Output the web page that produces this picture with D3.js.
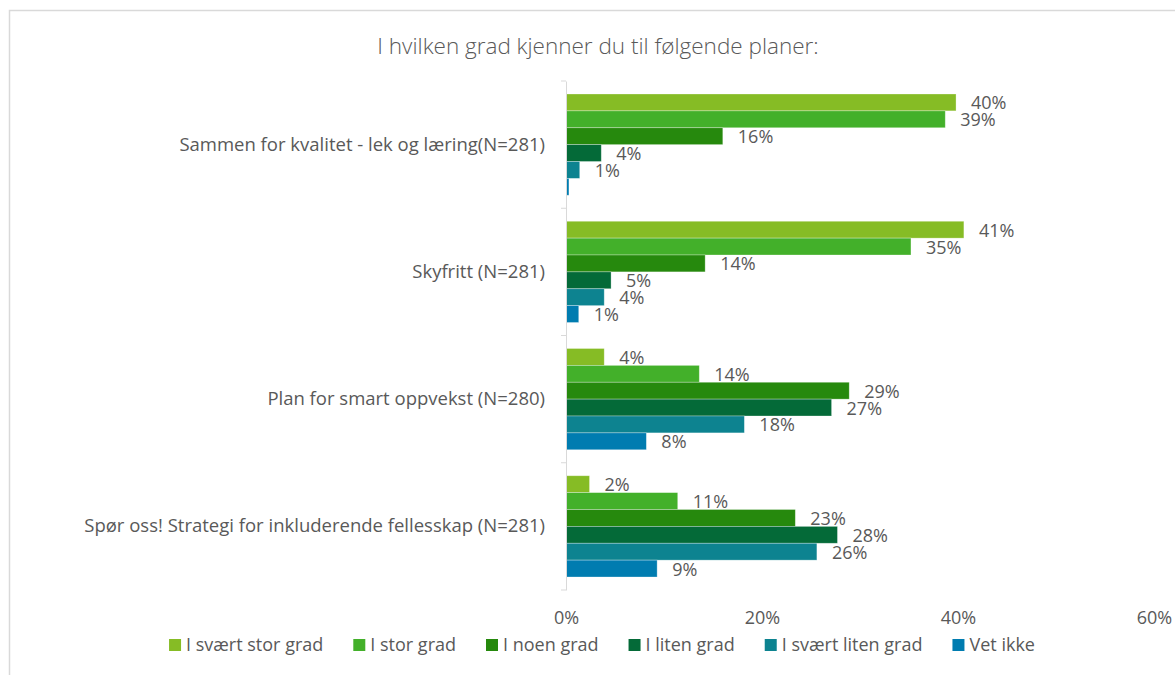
<!DOCTYPE html>
<html>
<head>
<meta charset="utf-8">
<script src="https://cdn.jsdelivr.net/npm/d3@7"></script>
<style>
  body { margin: 0; background: #fff; }
  text { font-family: "Open Sans", sans-serif; fill: #595959; }
</style>
</head>
<body>
<div id="chart"></div>
<script>
// data (percent)
var categories = [
  "Sammen for kvalitet - lek og læring(N=281)",
  "Skyfritt (N=281)",
  "Plan for smart oppvekst (N=280)",
  "Spør oss! Strategi for inkluderende fellesskap (N=281)"
];
var seriesNames = ["I svært stor grad", "I stor grad", "I noen grad", "I liten grad", "I svært liten grad", "Vet ikke"];
var svaertStor = [39.8, 40.6, 3.9, 2.4];
var stor = [38.7, 35.2, 13.6, 11.4];
var noen = [16.0, 14.2, 28.9, 23.4];
var liten = [3.6, 4.6, 27.1, 27.7];
var svaertLiten = [1.4, 3.9, 18.2, 25.6];
var vetIkke = [0.3, 1.3, 8.2, 9.3];
var xTicks = [0, 20, 40, 60];

var colors = ["#86bc25", "#43b02a", "#26890d", "#046a38", "#0d8390", "#007cb0"];
var seriesValues = [svaertStor, stor, noen, liten, svaertLiten, vetIkke];

var width = 1175, height = 675;

var svg = d3.select("#chart").append("svg")
  .attr("width", width)
  .attr("height", height);

// chart border
svg.append("rect")
  .attr("x", 9.5).attr("y", 10.5)
  .attr("width", 1200).attr("height", 700)
  .attr("fill", "none")
  .attr("stroke", "#d9d9d9")
  .attr("stroke-width", 1.5);

svg.append("text")
  .attr("x", 598).attr("y", 54)
  .attr("text-anchor", "middle")
  .style("font-size", "22.5px")
  .style("font-weight", 300)
  .text("I hvilken grad kjenner du til følgende planer:");

var x = d3.scaleLinear().domain([0, 60]).range([566, 1154]);
var y0 = d3.scaleBand().domain(categories).range([81, 590]);
var y1 = d3.scaleBand().domain(seriesNames).range([0, y0.bandwidth()]).paddingOuter(0.77);

var rows = categories.map(function(c, i) {
  return { cat: c, vals: seriesNames.map(function(s, j) { return { name: s, value: seriesValues[j][i], color: colors[j] }; }) };
});

var fmt = function(v) { return Math.round(v) + "%"; };

var groups = svg.selectAll(".grp")
  .data(rows).enter()
  .append("g").attr("class", "grp")
  .attr("transform", function(d) { return "translate(0," + y0(d.cat) + ")"; });

groups.selectAll("rect")
  .data(function(d) { return d.vals; })
  .enter().append("rect")
  .attr("x", x(0))
  .attr("y", function(d) { return y1(d.name); })
  .attr("width", function(d) { return x(d.value) - x(0); })
  .attr("height", y1.bandwidth())
  .attr("fill", function(d) { return d.color; })
  .attr("stroke", "#fff")
  .attr("stroke-opacity", 0.4)
  .attr("stroke-width", 0.75);

groups.selectAll(".lbl")
  .data(function(d) { return d.vals.filter(function(v) { return v.value >= 0.5; }); })
  .enter().append("text").attr("class", "lbl")
  .attr("x", function(d) { return x(d.value) + 15; })
  .attr("y", function(d) { return y1(d.name) + y1.bandwidth() / 2 + 7; })
  .style("font-size", "18px")
  .text(function(d) { return fmt(d.value); });

// category axis
var yAxis = d3.axisLeft(y0).tickSize(0).tickPadding(21);
var ya = svg.append("g")
  .attr("transform", "translate(" + x(0) + ",0)")
  .call(yAxis);
ya.select(".domain").attr("stroke", "#d9d9d9");
ya.selectAll("text")
  .style("font-size", "18.5px")
  .attr("fill", "#595959")
  .attr("font-family", null);

// tick marks on the category boundaries
ya.selectAll(".bound")
  .data(d3.range(categories.length + 1))
  .enter().append("line").attr("class", "bound")
  .attr("x1", -5).attr("x2", 0)
  .attr("y1", function(i) { return y0.range()[0] + i * y0.step(); })
  .attr("y2", function(i) { return y0.range()[0] + i * y0.step(); })
  .attr("stroke", "#d9d9d9");

// value axis labels
var xAxis = d3.axisBottom(x).tickValues(xTicks).tickSize(0).tickPadding(0)
  .tickFormat(function(d) { return d + "%"; });
var xa = svg.append("g")
  .attr("transform", "translate(0,611)")
  .call(xAxis);
xa.select(".domain").remove();
xa.selectAll("text")
  .style("font-size", "18px")
  .attr("fill", "#595959")
  .attr("font-family", null)
  .attr("dy", "0.71em");

// legend
var legend = svg.append("g");
var items = legend.selectAll(".leg")
  .data(seriesNames).enter()
  .append("g").attr("class", "leg");
items.append("rect")
  .attr("width", 12).attr("height", 12)
  .attr("y", 639)
  .attr("fill", function(d, i) { return colors[i]; });
items.append("text")
  .attr("x", 17).attr("y", 651)
  .style("font-size", "18px")
  .text(function(d) { return d; });

var pos = 0;
items.each(function() {
  var w = this.querySelector("text").getComputedTextLength();
  d3.select(this).attr("data-x", pos);
  pos += 17 + w + 30;
});
var total = pos - 30;
var start = 602 - total / 2;
items.attr("transform", function() { return "translate(" + (start + +this.getAttribute("data-x")) + ",0)"; });
</script>
</body>
</html>
